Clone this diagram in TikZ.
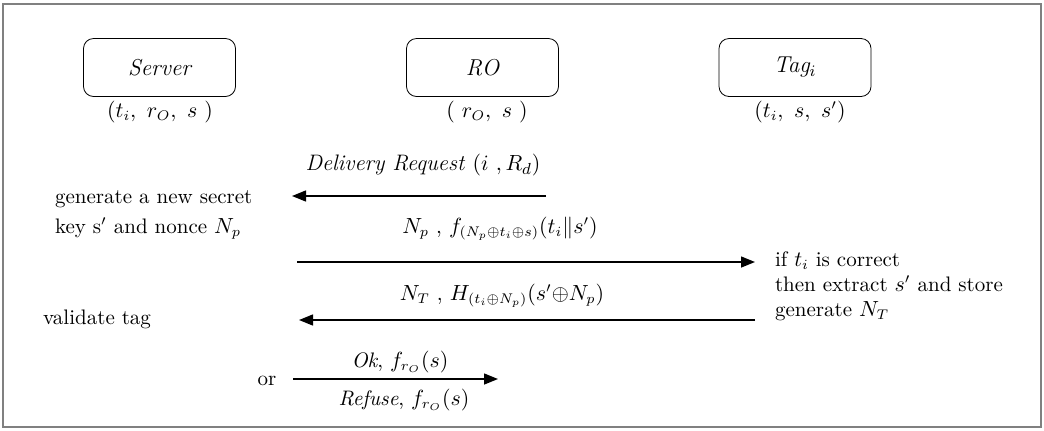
\documentclass[tikz,border=0pt]{standalone}
\usetikzlibrary{arrows.meta,positioning,shapes}

\begin{document}
\begin{tikzpicture}[x=0.5pt,y=-0.5pt,font=\fontsize{10.5}{13}\selectfont,
  party/.style={draw,rounded corners=5pt,minimum width=76pt,minimum height=29pt,font=\itshape\fontsize{11.5}{13}\selectfont},
  msg/.style={-{Triangle[length=7pt,width=5.5pt]},line width=0.7pt}]
\useasboundingbox (0,0) rectangle (1044,430);
\draw[gray,line width=0.8pt] (3,4) rectangle (1041,427);
% the three parties
\node[party] (server) at (159.5,67.5) {Server};
\node[party] (ro) at (482.5,67.5) {RO};
\node[party] (tag) at (795,67.5) {Tag$_i$};
\node (serverkeys) at (160,112) {$(t_i,\ r_O,\ s\ )$};
\node (rokeys) at (487,112) {$(\ r_O,\ s\ )$};
\node (tagkeys) at (800,112) {$(t_i,\ s,\ s')$};
% message ends
\coordinate (m1s) at (546,196);
\coordinate (m1e) at (292,196);
\coordinate (m2s) at (297,262);
\coordinate (m2e) at (755,262);
\coordinate (m3s) at (755,320);
\coordinate (m3e) at (299,320);
\coordinate (m4s) at (293,379);
\coordinate (m4e) at (498,379);
\draw[msg] (m1s) -- (m1e);
\draw[msg] (m2s) -- (m2e);
\draw[msg] (m3s) -- (m3e);
\draw[msg] (m4s) -- (m4e);
% labels on the messages
\node[font=\fontsize{11.2}{13}\selectfont] (m1lbl) at (423,165) {\textit{Delivery Request} $(i\ ,R_d)$};
\node (m2lbl) at (500,229) {$N_p$\ ,\ $f_{(N_p\oplus t_i\oplus s)}(t_i\|s')$};
\node (m3lbl) at (502,296) {$N_T$\ ,\ $H_{(t_i\oplus N_p)}(s'{\oplus}N_p)$};
\node (oklbl) at (400,362) {\textit{Ok},\ $f_{r_O}(s)$};
\node (reflbl) at (404,400) {\textit{Refuse},\ $f_{r_O}(s)$};
% what each side does
\node[anchor=west,align=left,font=\fontsize{10.5}{15}\selectfont] (gen) at (48,215) {generate a new secret\\key s$'$ and nonce $N_p$};
\node[anchor=west,align=left,font=\fontsize{10.5}{12.5}\selectfont] (check) at (768,286) {if $t_i$ is correct\\then extract $s'$ and store\\generate $N_T$};
\node[anchor=west] (valid) at (36,319) {validate tag};
\node (or) at (267,381) {or};
\end{tikzpicture}
\end{document}
